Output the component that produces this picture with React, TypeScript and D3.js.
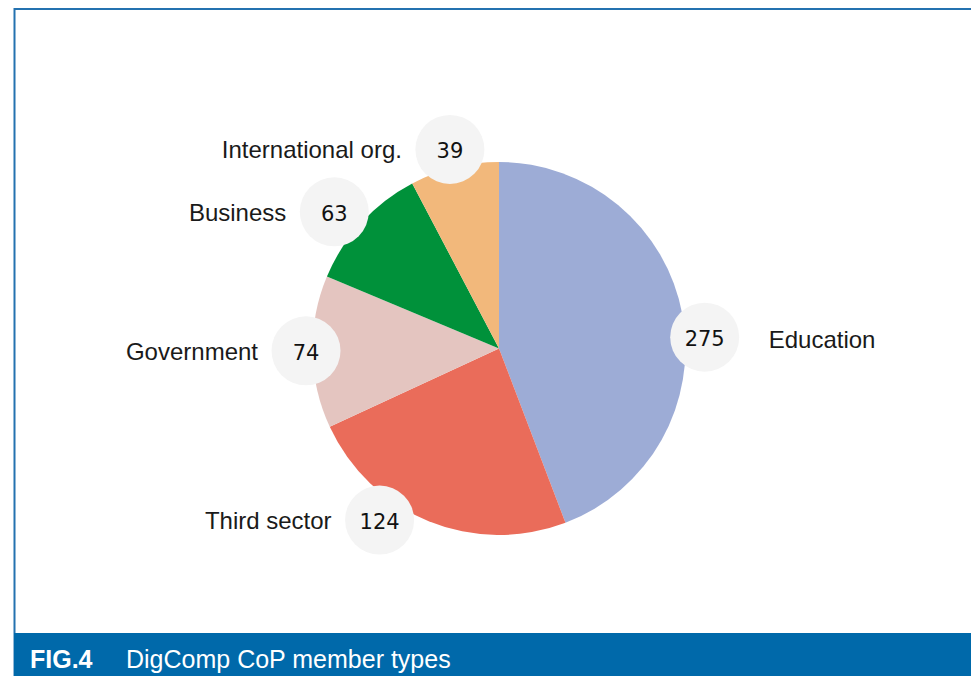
import React from "react";
import * as d3 from "d3";

// ---- data ----
const categories = ["Education", "Third sector", "Government", "Business", "International org."];
const memberCounts = [275, 124, 74, 63, 39];
// slice shares (%) as drawn in the reference pie
const sliceShares = [44.2, 23.9, 13.2, 11.0, 7.7];
const sliceColors = ["#9DACD6", "#EA6C5A", "#E4C5C0", "#00913A", "#F2B87B"];
const figureNumber = "FIG.4";
const figureTitle = "DigComp CoP member types";

// ---- layout ----
const W = 971;
const H = 676;
const CX = 499;
const CY = 348.5;
const R = 186.5;
const BUBBLE_R = 34.5;
// label placement: angle nudge (degrees) from slice mid-angle, and radius
const labelNudgeDeg = [7.3, 12.7, 0.4, -2.8, 0];
const labelRadius = [206, 209, 193, 214, 205];
const BLUE = "#0069AA";

type Row = { name: string; count: number; share: number; color: string };

export default function App() {
  const rows: Row[] = categories.map((name, i) => ({
    name,
    count: memberCounts[i],
    share: sliceShares[i],
    color: sliceColors[i],
  }));

  const pie = d3.pie<Row>().sort(null).value((d) => d.share);
  const arcs = pie(rows);
  const arcGen = d3.arc<d3.PieArcDatum<Row>>().innerRadius(0).outerRadius(R);

  return (
    <svg
      width={W}
      height={H}
      viewBox={`0 0 ${W} ${H}`}
      style={{ position: "absolute", left: 0, top: 0, background: "#fff" }}
    >
      {/* frame */}
      <line x1={14} y1={9} x2={W} y2={9} stroke="#2472B0" strokeWidth={2} />
      <line x1={14.5} y1={8} x2={14.5} y2={H} stroke="#2472B0" strokeWidth={2} />

      <g transform={`translate(${CX},${CY})`}>
        {arcs.map((a, i) => (
          <path key={i} d={arcGen(a) || ""} fill={a.data.color} />
        ))}
        {arcs.map((a, i) => {
          const mid = (a.startAngle + a.endAngle) / 2 + (labelNudgeDeg[i] * Math.PI) / 180;
          const r = labelRadius[i];
          const x = Math.sin(mid) * r;
          const y = -Math.cos(mid) * r;
          const right = x > 0;
          return (
            <g key={"l" + i}>
              <circle cx={x} cy={y} r={BUBBLE_R} fill="#F4F4F4" />
              <text
                x={x}
                y={y + 9}
                textAnchor="middle"
                fontFamily="'DejaVu Sans', 'Noto Sans', sans-serif"
                fontSize={21}
                fill="#111"
              >
                {a.data.count}
              </text>
              <text
                x={right ? x + 64 : x - 48}
                y={y + (right ? 11 : 9)}
                textAnchor={right ? "start" : "end"}
                fontFamily="'Liberation Sans', Arial, sans-serif"
                fontSize={24}
                fill="#1a1a1a"
              >
                {a.data.name}
              </text>
            </g>
          );
        })}
      </g>

      {/* caption bar */}
      <rect x={14} y={633} width={W - 14} height={H - 633} fill={BLUE} />
      <text
        x={30}
        y={668}
        fontFamily="'Liberation Sans', Arial, sans-serif"
        fontSize={25}
        fontWeight="bold"
        fill="#fff"
      >
        {figureNumber}
      </text>
      <text
        x={126}
        y={668}
        fontFamily="'Liberation Sans', Arial, sans-serif"
        fontSize={25}
        fill="#fff"
      >
        {figureTitle}
      </text>
    </svg>
  );
}
